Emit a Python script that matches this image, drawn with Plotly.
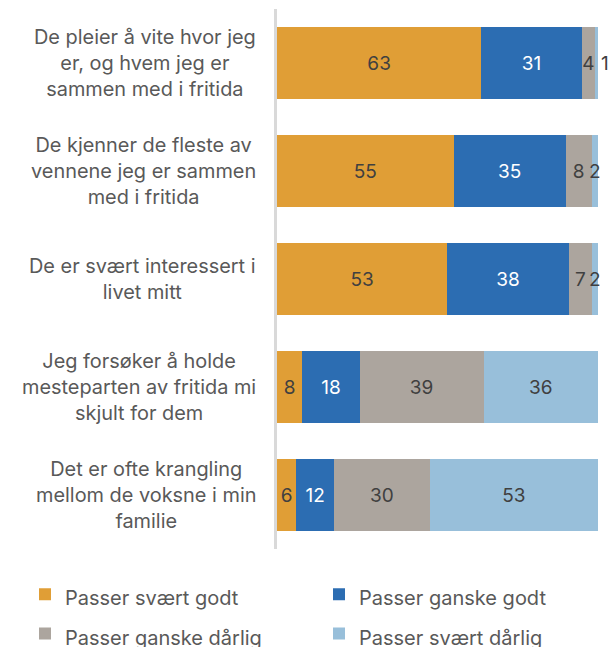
import plotly.graph_objects as go

categories = [
    "De pleier å vite hvor jeg<br>er, og hvem jeg er<br>sammen med i fritida",
    "De kjenner de fleste av<br>vennene jeg er sammen<br>med i fritida",
    "De er svært interessert i<br>livet mitt",
    "Jeg forsøker å holde<br>mesteparten av fritida mi<br>skjult for dem",
    "Det er ofte krangling<br>mellom de voksne i min<br>familie",
]
series_names = ["Passer svært godt", "Passer ganske godt", "Passer ganske dårlig", "Passer svært dårlig"]
svaert_godt = [63, 55, 53, 8, 6]
ganske_godt = [31, 35, 38, 18, 12]
ganske_darlig = [4, 8, 7, 39, 30]
svaert_darlig = [1, 2, 2, 36, 53]

series_values = [svaert_godt, ganske_godt, ganske_darlig, svaert_darlig]
colors = ["#E09E36", "#2C6DB2", "#ACA59E", "#98BFDA"]
text_colors = ["#404040", "#FFFFFF", "#404040", "#404040"]
FONT = "Inter, Roboto, sans-serif"

fig = go.Figure()
for name, vals, col, tcol in zip(series_names, series_values, colors, text_colors):
    if name == "Passer svært dårlig":
        tpos = ["outside" if v == 1 else "inside" for v in vals]
    else:
        tpos = "inside"
    fig.add_trace(go.Bar(
        y=categories, x=vals, name=f"<span style='font-size:20px'>{name}</span>",
        orientation="h",
        marker=dict(color=col, line=dict(width=0)),
        text=[str(v) for v in vals],
        textposition=tpos,
        insidetextanchor="middle",
        textangle=0,
        insidetextfont=dict(color=tcol, size=19, family=FONT),
        outsidetextfont=dict(color="#404040", size=19, family=FONT),
        cliponaxis=False,
        hoverinfo="skip",
    ))

for cat in categories:
    fig.add_annotation(
        x=0, xref="paper", y=cat, yref="y",
        text=cat, showarrow=False, xanchor="right", yanchor="middle",
        xshift=-19, align="center",
        font=dict(size=19.9, color="#595959", family=FONT),
    )

fig.update_layout(
    barmode="stack",
    barnorm="percent",
    bargap=0.333,
    width=610, height=647,
    margin=dict(l=277, r=12, t=9, b=98, autoexpand=False),
    plot_bgcolor="white", paper_bgcolor="white",
    uniformtext=dict(minsize=19, mode="show"),
    font=dict(family=FONT, color="#595959"),
    xaxis=dict(range=[0, 100], visible=False, fixedrange=True),
    yaxis=dict(autorange="reversed", showticklabels=False, showline=True,
               linecolor="#D9D9D9", linewidth=3, ticks="", showgrid=False,
               zeroline=False),
    legend=dict(
        orientation="h", x=(25 - 277) / 321, xanchor="left",
        y=-0.038, yanchor="top",
        entrywidth=249, entrywidthmode="pixels",
        font=dict(size=28, color="#595959", family=FONT),
        traceorder="normal", bgcolor="rgba(0,0,0,0)",
    ),
    showlegend=True,
)

fig.write_html("out.html", config={"displayModeBar": False},
               post_script="document.body.style.margin='0';document.body.style.overflow='hidden';")
